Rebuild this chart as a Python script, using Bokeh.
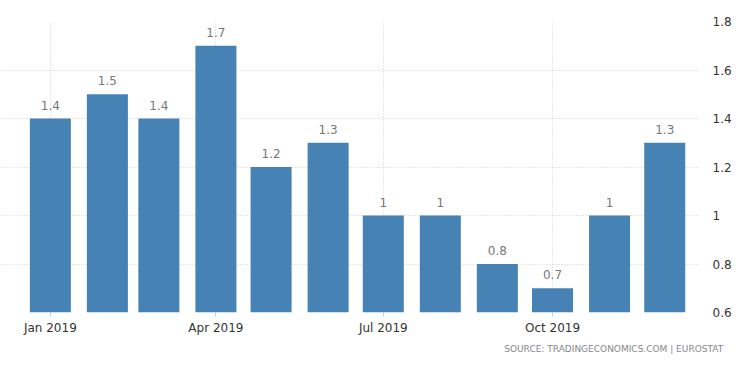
import datetime as dt
from bokeh.plotting import figure
from bokeh.models import ColumnDataSource, FixedTicker, DatetimeTickFormatter, Range1d, Title
from bokeh.core.properties import value
from bokeh.embed import file_html
from bokeh.resources import INLINE

months = ["2019-01-01", "2019-02-01", "2019-03-01", "2019-04-01", "2019-05-01", "2019-06-01",
          "2019-07-01", "2019-08-01", "2019-09-01", "2019-10-01", "2019-11-01", "2019-12-01"]
values = [1.4, 1.5, 1.4, 1.7, 1.2, 1.3, 1.0, 1.0, 0.8, 0.7, 1.0, 1.3]
x_tick_dates = ["2019-01-01", "2019-04-01", "2019-07-01", "2019-10-01"]
y_ticks = [0.6, 0.8, 1.0, 1.2, 1.4, 1.6, 1.8]
source_text = "SOURCE:  TRADINGECONOMICS.COM   |   EUROSTAT"

DAY = 86400000.0
def ms(s):
    d = dt.datetime.strptime(s, "%Y-%m-%d")
    return (d - dt.datetime(1970, 1, 1)).total_seconds() * 1000.0

xs = [ms(m) for m in months]
labels = [f"{v:g}" for v in values]
src = ColumnDataSource(dict(x=xs, top=values, label=labels))

jan = ms("2019-01-01")
p = figure(width=734, height=357, x_axis_type="datetime", output_backend="svg",
           toolbar_location=None, y_axis_location="right",
           x_range=Range1d(jan - 27.1 * DAY, jan + 352.9 * DAY),
           y_range=Range1d(0.6, 1.8),
           min_border_left=0, min_border_top=21, min_border_right=34, min_border_bottom=40)
p.outline_line_color = None
p.background_fill_color = "white"
p.border_fill_color = "white"

p.vbar(x="x", top="top", bottom=0.6, width=22.3 * DAY, source=src,
       fill_color="#4682b4", line_color=None)
p.text(x="x", y="top", text="label", source=src, text_align="center",
       text_baseline="bottom", y_offset=-9, text_font=value("DejaVu Sans"),
       text_font_size="12px", text_color="#777777")

p.xaxis.ticker = FixedTicker(ticks=[ms(d) for d in x_tick_dates])
fmt = "%b %Y"
p.xaxis.formatter = DatetimeTickFormatter(years=fmt, months=fmt, days=fmt, hours=fmt,
                                          minutes=fmt, seconds=fmt, milliseconds=fmt,
                                          microseconds=fmt, hourmin=fmt, minsec=fmt)
p.yaxis.ticker = FixedTicker(ticks=y_ticks)
p.yaxis.formatter.use_scientific = False

for ax in (p.xaxis, p.yaxis):
    ax.axis_line_color = None
    ax.major_label_text_font = "DejaVu Sans"
    ax.major_label_text_font_size = "12px"
    ax.major_label_text_color = "#333333"
    ax.minor_tick_line_color = None
p.yaxis.major_tick_line_color = None
p.yaxis.major_label_standoff = 7
p.xaxis.major_tick_line_color = "#cccccc"
p.xaxis.major_tick_out = 4
p.xaxis.major_tick_in = 0
p.xaxis.major_label_standoff = 4

p.grid.grid_line_color = "#cccccc"
p.grid.grid_line_dash = "1 2"
p.grid.grid_line_width = 1

t = Title(text=source_text, align="right", text_font="DejaVu Sans", text_font_size="9px",
          text_color="#888888", text_font_style="normal", offset=-38, standoff=8)
p.add_layout(t, "below")

open("out.html", "w").write(file_html(p, INLINE))
